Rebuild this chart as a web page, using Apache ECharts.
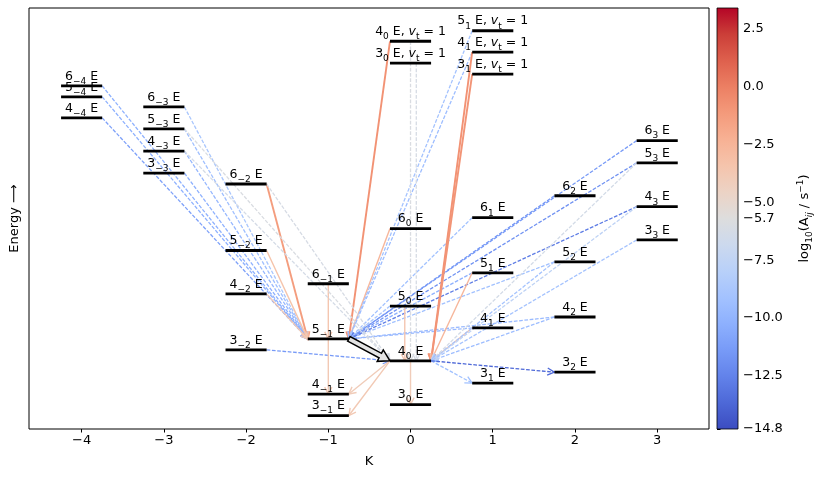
<!DOCTYPE html>
<html><head><meta charset="utf-8">
<script src="https://cdn.jsdelivr.net/npm/echarts@6/dist/echarts.min.js"></script>
<style>html,body{margin:0;background:#fff}#c{width:830px;height:480px}</style>
</head><body><div id="c"></div>
<script>
/* Rotational level diagram (E species) with radiative transitions coloured by log10 A. */
var FONT = "DejaVu Sans";

// levels: J, K, torsional state, energy (arbitrary units)
var LEVEL_J  = [6, 5, 4,   6, 5, 4, 3,   6, 5, 4, 3,   6, 5, 4, 3,   4, 3, 6, 5, 4, 3,   5, 4, 3, 6, 5, 4, 3,   6, 5, 4, 3,   6, 5, 4, 3];
var LEVEL_K  = [-4, -4, -4, -3, -3, -3, -3, -2, -2, -2, -2, -1, -1, -1, -1, 0, 0, 0, 0, 0, 0, 1, 1, 1, 1, 1, 1, 1, 2, 2, 2, 2, 3, 3, 3, 3];
var LEVEL_VT = [0, 0, 0,   0, 0, 0, 0,   0, 0, 0, 0,   0, 0, 0, 0,   1, 1, 0, 0, 0, 0,   1, 1, 1, 0, 0, 0, 0,   0, 0, 0, 0,   0, 0, 0, 0];
var LEVEL_E  = [81.5, 78.9, 73.9,  76.5, 71.3, 66.0, 60.8,  58.2, 42.4, 32.1, 18.8,  34.5, 21.4, 8.3, 3.2,
                92.1, 86.9, 47.6, 29.2, 16.2, 5.8,  94.6, 89.5, 84.3, 50.2, 37.1, 24.0, 10.9,
                55.4, 39.7, 26.6, 13.5,  68.5, 63.2, 52.8, 44.9];

// transitions: upper level -> lower level, log10(A / s^-1)
var TRANS_FROM = ["6_-4", "5_-4", "4_-4", "6_-3", "5_-3", "4_-3", "3_-3", "6_-2", "5_-2", "4_-2", "6_-1", "4_0v",
                  "6_0", "5_1v", "4_1v", "6_1", "5_1", "4_1", "6_2", "5_2", "4_2", "6_3", "5_3", "4_3", "5_0",
                  "5_-3", "4_-3", "6_-2", "3_-2", "5_0", "4_0v", "3_0v", "4_1v", "3_1v", "5_1", "4_1", "5_2", "4_2",
                  "5_3", "4_3", "3_3", "5_-1", "4_0", "4_0", "4_0", "4_0", "4_0"];
var TRANS_TO   = ["5_-1", "5_-1", "5_-1", "5_-1", "5_-1", "5_-1", "5_-1", "5_-1", "5_-1", "5_-1", "5_-1", "5_-1",
                  "5_-1", "5_-1", "5_-1", "5_-1", "5_-1", "5_-1", "5_-1", "5_-1", "5_-1", "5_-1", "5_-1", "5_-1", "5_-1",
                  "4_0", "4_0", "4_0", "4_0", "4_0", "4_0", "4_0", "4_0", "4_0", "4_0", "4_0", "4_0", "4_0",
                  "4_0", "4_0", "4_0", "4_-1", "4_-1", "3_-1", "3_0", "3_1", "3_2"];
var TRANS_LOGA = [-10.2, -10.2, -11.0, -8.8, -9.3, -9.8, -10.2, -1.3, -3.4, -3.8, -3.6, -0.8,
                  -2.6, -9.0, -9.4, -9.2, -10.2, -9.6, -11.6, -9.2, -9.6, -11.4, -11.8, -12.8, -8.8,
                  -6.0, -6.3, -6.2, -11.4, -3.6, -6.0, -6.2, -0.8, -0.9, -2.6, -3.6, -9.0, -9.4,
                  -6.4, -7.6, -9.0, -3.8, -4.0, -3.8, -4.0, -9.2, -13.6];

// highlighted transition (thick outlined arrow)
var MASER = ["5_-1", "4_0"];

var K_TICKS = [-4, -3, -2, -1, 0, 1, 2, 3];
var CBAR_TICKS = [2.5, 0, -2.5, -5.0, -5.7, -7.5, -10.0, -12.5, -14.8];
var CBAR_MIN = -14.8, CBAR_MAX = 3.4;

var COOLWARM = ["#3b4cc0", "#4d68d7", "#6282ea", "#779af7", "#8db0fe", "#a3c2ff", "#b8d0f9", "#ccd9ee", "#dddddd",
                "#ecd3c5", "#f5c4ac", "#f7b194", "#f49a7b", "#ec7f63", "#de604d", "#cb3e38", "#b40426"];

var HALF = 0.25;

function key(i) { return LEVEL_J[i] + "_" + LEVEL_K[i] + (LEVEL_VT[i] ? "v" : ""); }
var KEYS = LEVEL_J.map(function (_, i) { return key(i); });
function lvl(k) { return KEYS.indexOf(k); }
function minus(s) { return String(s).replace("-", "\u2212"); }

function levelLabel(i) {
  var s = "{n|" + LEVEL_J[i] + "}{s|" + minus(LEVEL_K[i]) + "}";
  return s + (LEVEL_VT[i] ? "{n| E, }{i|v}{s|t}{n| = 1}" : "{n| E}");
}
var RICH = {
  n: { fontSize: 12.5, fontFamily: FONT, fill: "#000", lineHeight: 19 },
  i: { fontSize: 12.5, fontFamily: FONT, fill: "#000", lineHeight: 19, fontStyle: "italic" },
  s: { fontSize: 9, fontFamily: FONT, fill: "#000", lineHeight: 9, verticalAlign: "bottom" }
};

function ends(from, to, offset) {
  var a = lvl(from), b = lvl(to), ka = LEVEL_K[a], kb = LEVEL_K[b], xa, xb;
  if (ka < kb) { xa = ka + HALF; xb = kb - HALF; }
  else if (ka > kb) { xa = ka - HALF; xb = kb + HALF; }
  else { xa = xb = ka + (offset || 0); }
  return [[xa, LEVEL_E[a]], [xb, LEVEL_E[b]]];
}

// spread vertical (same K) transitions that share a lower level
function vOffset(i) {
  var grp = [];
  TRANS_FROM.forEach(function (f, j) {
    if (TRANS_TO[j] === TRANS_TO[i] && LEVEL_K[lvl(f)] === LEVEL_K[lvl(TRANS_TO[j])]) grp.push(j);
  });
  return (grp.indexOf(i) - (grp.length - 1) / 2) * 0.07;
}

function renderTrans(params, api) {
  var i = params.dataIndex, v = TRANS_LOGA[i];
  var e2 = ends(TRANS_FROM[i], TRANS_TO[i], vOffset(i));
  var p0 = api.coord(e2[0]), p1 = api.coord(e2[1]);
  var color = api.visual("color");
  var dashed = v < -5;
  var lw = v > -1.5 ? 1.9 : (dashed ? 1.3 : 1.4);
  var dx = p1[0] - p0[0], dy = p1[1] - p0[1], L = Math.sqrt(dx * dx + dy * dy), ux = dx / L, uy = dy / L;
  var hl = 7, hw = 3.6;
  var head = [[p1[0] - hl * ux - hw * uy, p1[1] - hl * uy + hw * ux], [p1[0], p1[1]],
              [p1[0] - hl * ux + hw * uy, p1[1] - hl * uy - hw * ux]];
  return { type: "group", children: [
    { type: "line", shape: { x1: p0[0], y1: p0[1], x2: p1[0], y2: p1[1] },
      style: { stroke: color, lineWidth: lw, lineDash: dashed ? [3.7, 1.6] : null, fill: null } },
    { type: "polyline", shape: { points: head }, style: { stroke: color, lineWidth: lw, fill: null } }
  ] };
}

function renderMaser(params, api) {
  var e2 = ends(MASER[0], MASER[1]);
  var p0 = api.coord(e2[0]), p1 = api.coord(e2[1]);
  var dx = p1[0] - p0[0], dy = p1[1] - p0[1], L = Math.sqrt(dx * dx + dy * dy), ux = dx / L, uy = dy / L;
  var sw = 2.6, hw = 6.5, hl = 11, nx = -uy, ny = ux;
  var bx = p1[0] - hl * ux, by = p1[1] - hl * uy;
  var pts = [[p0[0] + sw * nx, p0[1] + sw * ny], [bx + sw * nx, by + sw * ny], [bx + hw * nx, by + hw * ny],
             [p1[0], p1[1]], [bx - hw * nx, by - hw * ny], [bx - sw * nx, by - sw * ny], [p0[0] - sw * nx, p0[1] - sw * ny]];
  return { type: "polygon", shape: { points: pts }, style: { fill: "#e4e4e4", stroke: "#000", lineWidth: 1.5 } };
}

function renderLevel(params, api) {
  var i = params.dataIndex;
  var p0 = api.coord([LEVEL_K[i] - HALF, LEVEL_E[i]]), p1 = api.coord([LEVEL_K[i] + HALF, LEVEL_E[i]]);
  return { type: "group", children: [
    { type: "line", shape: { x1: p0[0], y1: p0[1], x2: p1[0], y2: p1[1] }, style: { stroke: "#000", lineWidth: 2.8 } },
    { type: "text", x: (p0[0] + p1[0]) / 2, y: p0[1],
      style: { text: levelLabel(i), rich: RICH, align: "center", verticalAlign: "bottom", fill: "#000", fontFamily: FONT } }
  ] };
}

function renderBar(params, api) {
  var a = api.coord([0, CBAR_MAX]), b = api.coord([1, CBAR_MIN]);
  var stops = COOLWARM.slice().reverse().map(function (c, i) { return { offset: i / (COOLWARM.length - 1), color: c }; });
  return { type: "rect", shape: { x: a[0], y: a[1], width: b[0] - a[0], height: b[1] - a[1] },
    style: { fill: new echarts.graphic.LinearGradient(0, 0, 0, 1, stops), stroke: "#000", lineWidth: 0.8 } };
}

var chart = echarts.init(document.getElementById("c"));
chart.setOption({
  animation: false,
  textStyle: { fontFamily: FONT },
  grid: [
    { left: 29, right: 121, top: 8, bottom: 51, show: true, borderColor: "#000", borderWidth: 1 },
    { left: 717, width: 21, top: 8, bottom: 51 }
  ],
  visualMap: { type: "continuous", show: false, min: CBAR_MIN, max: CBAR_MAX, dimension: 1, seriesIndex: 0,
               inRange: { color: COOLWARM } },
  xAxis: [
    { type: "value", min: -4.64, max: 3.63, splitLine: { show: false }, axisLine: { show: false },
      axisTick: { show: true, customValues: K_TICKS, length: 3.5, lineStyle: { color: "#000" } },
      axisLabel: { customValues: K_TICKS, formatter: minus, color: "#000", fontSize: 13, margin: 5 },
      name: "K", nameLocation: "middle", nameGap: 26, nameTextStyle: { color: "#000", fontSize: 13 } },
    { gridIndex: 1, type: "value", min: 0, max: 1, show: false }
  ],
  yAxis: [
    { type: "value", min: 0, max: 100, splitLine: { show: false }, axisLine: { show: false },
      axisTick: { show: false }, axisLabel: { show: false },
      name: "Energy \u27f6", nameLocation: "middle", nameGap: 8, nameTextStyle: { color: "#000", fontSize: 13 } },
    { gridIndex: 1, type: "value", min: CBAR_MIN, max: CBAR_MAX, position: "right",
      splitLine: { show: false }, axisLine: { show: false },
      axisTick: { show: true, customValues: CBAR_TICKS, length: 3.5, lineStyle: { color: "#000" } },
      axisLabel: { customValues: CBAR_TICKS, color: "#000", fontSize: 13, margin: 5,
                   formatter: function (v) { return minus(Number(v).toFixed(1)); } },
      name: "{t|log}{s|10}{t|(A}{si|ij}{t| / s}{sp|\u22121}{t|)}", nameLocation: "middle", nameRotate: 90, nameGap: 58,
      nameTextStyle: { rich: {
        t: { fontSize: 13, fontFamily: FONT, color: "#000", lineHeight: 18 },
        s: { fontSize: 9, fontFamily: FONT, color: "#000", lineHeight: 9, verticalAlign: "bottom" },
        si: { fontSize: 9, fontFamily: FONT, color: "#000", lineHeight: 9, verticalAlign: "bottom", fontStyle: "italic" },
        sp: { fontSize: 9, fontFamily: FONT, color: "#000", lineHeight: 9, verticalAlign: "top" }
      } } }
  ],
  series: [
    { type: "custom", renderItem: renderTrans, z: 2,
      data: TRANS_LOGA.map(function (v, i) { return [i, v]; }) },
    { type: "custom", renderItem: renderMaser, z: 3, data: [[0, 0]] },
    { type: "custom", renderItem: renderLevel, z: 4,
      data: LEVEL_K.map(function (k, i) { return [k, LEVEL_E[i]]; }) },
    { type: "custom", renderItem: renderBar, xAxisIndex: 1, yAxisIndex: 1, data: [[0, 0]] }
  ]
});
</script></body></html>
